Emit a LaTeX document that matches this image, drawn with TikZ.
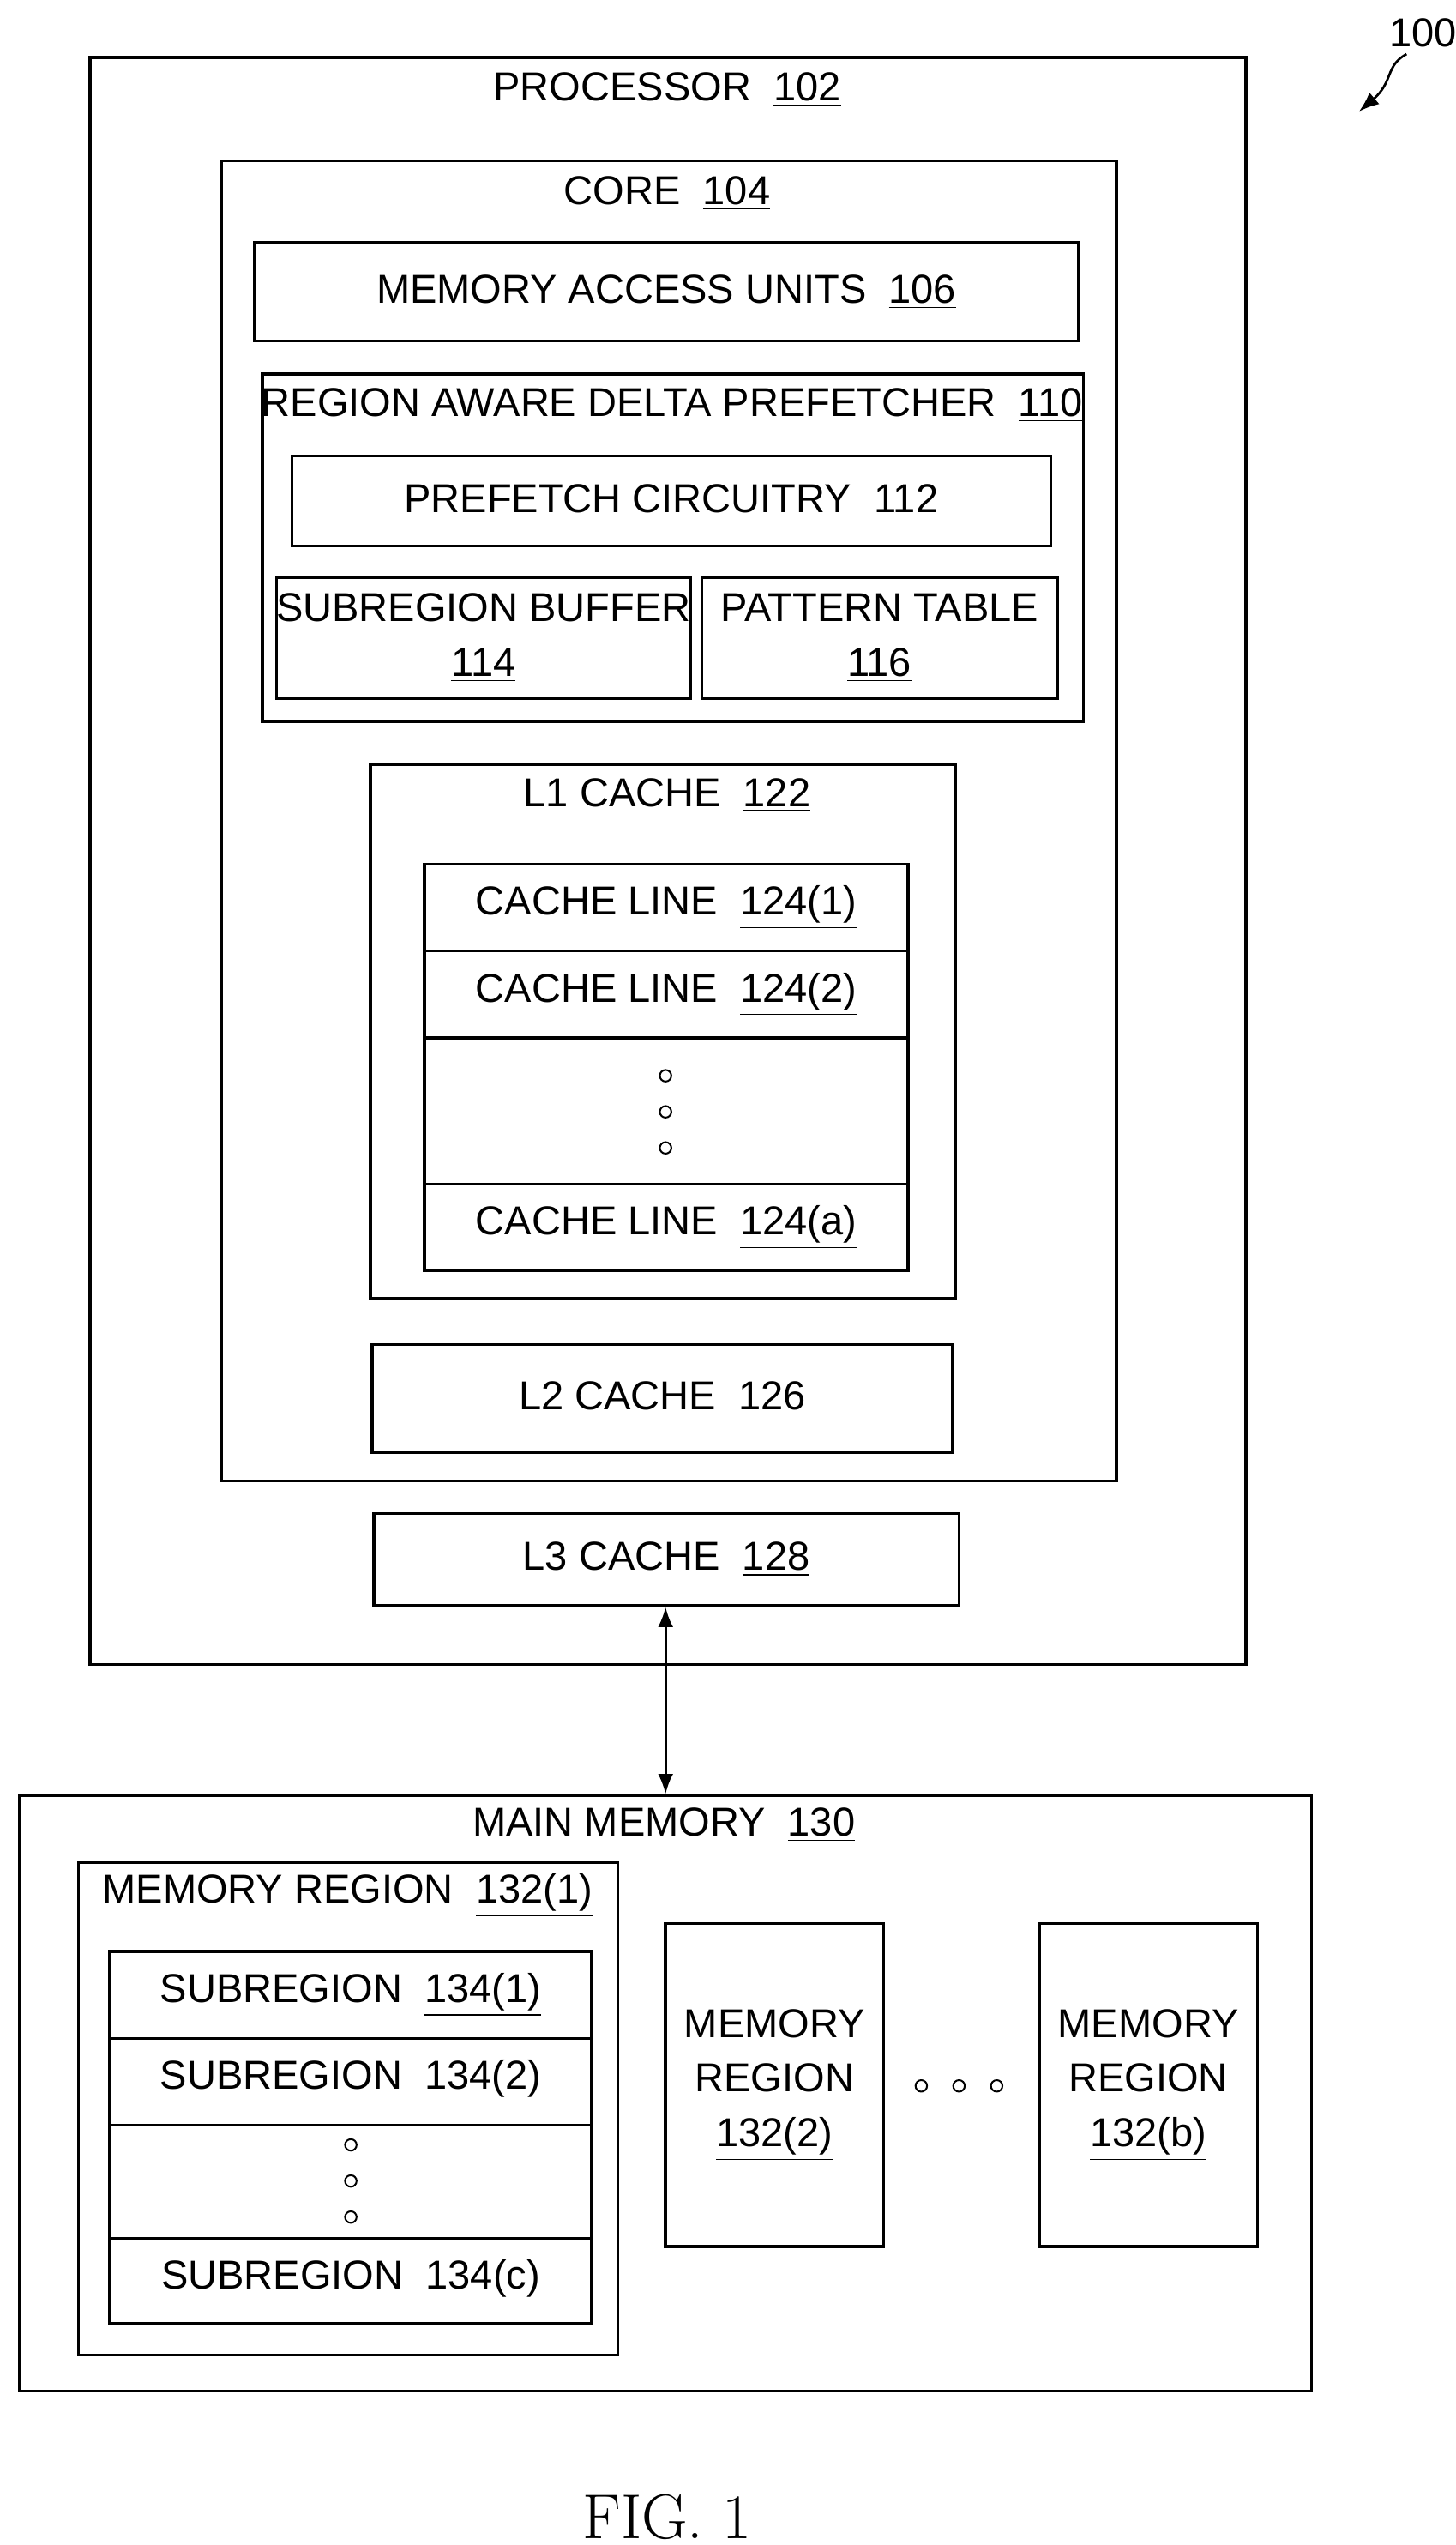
\documentclass[tikz,border=0pt]{standalone}
\usepackage{fontspec}
\setsansfont{Liberation Sans}
\usetikzlibrary{calc,arrows.meta}

% box from two corners (reference pixel units)
\newcommand{\blk}[6]{%
  \node[blk, minimum width={(#4-#2)*0.02cm}, minimum height={(#5-#3)*0.02cm}]
    (#1) at ({(#2+#4)/2},{-(#3+#5)/2}) {#6};}
\newcommand{\num}[1]{\underline{#1}}

\tikzset{
  blk/.style={draw, line width=1pt, inner sep=0pt, align=center,
    font=\sffamily\fontsize{14}{19}\selectfont},
  ttl/.style={font=\sffamily\fontsize{14}{19}\selectfont, inner sep=0pt},
  dot/.style={draw, circle, line width=0.6pt, inner sep=0pt, minimum size=4pt}
}

\begin{document}
\begin{tikzpicture}[x=0.02cm, y=0.02cm]
    \useasboundingbox (0,0) rectangle (888,-1552);

    % processor and core
    \blk{proc}{55}{35}{760}{1015}{}
    \node[ttl] (proctxt) at (407,-55) {PROCESSOR\ \ \num{102}};
    \blk{core}{135}{98}{681}{903}{}
    \node[ttl] (coretxt) at (407,-118) {CORE\ \ \num{104}};
    \blk{mau}{155}{148}{658}{208}{MEMORY ACCESS UNITS\ \ \num{106}}

    % prefetcher
    \blk{radp}{160}{228}{661}{440}{}
    \node[ttl] (radptxt) at (410,-247) {REGION AWARE DELTA PREFETCHER\ \ \num{110}};
    \blk{pfc}{178}{278}{641}{333}{PREFETCH CIRCUITRY\ \ \num{112}}
    \blk{sbuf}{178}{352}{412}{426}{SUBREGION BUFFER\\\num{114}}
    \blk{ptab}{428}{352}{645}{426}{PATTERN TABLE\\\num{116}}

    % L1 cache
    \blk{lone}{226}{466}{583}{792}{}
    \node[ttl] (lonetxt) at (407,-485) {L1 CACHE\ \ \num{122}};
    \blk{cla}{259}{527}{554}{580}{CACHE LINE\ \ \num{124(1)}}
    \blk{clb}{259}{580}{554}{633}{CACHE LINE\ \ \num{124(2)}}
    \blk{clgap}{259}{633}{554}{722}{}
    \blk{clc}{259}{722}{554}{775}{CACHE LINE\ \ \num{124(a)}}
    \foreach \y in {656,678,700} \node[dot] at (406,-\y) {};

    \blk{ltwo}{227}{820}{581}{886}{L2 CACHE\ \ \num{126}}
    \blk{lthree}{228}{923}{585}{979}{L3 CACHE\ \ \num{128}}

    % main memory
    \blk{mem}{12}{1095}{800}{1458}{}
    \node[ttl] (memtxt) at (405,-1113) {MAIN MEMORY\ \ \num{130}};
    \draw[line width=0.8pt, {Latex[length=7pt]}-{Latex[length=7pt]}] (lthree.south-|406,0) -- (mem.north-|406,0);

    \blk{mra}{48}{1136}{377}{1436}{}
    \node[ttl] (mratxt) at (212,-1156) {MEMORY REGION\ \ \num{132(1)}};
    \blk{sra}{67}{1190}{361}{1243}{SUBREGION\ \ \num{134(1)}}
    \blk{srb}{67}{1243}{361}{1296}{SUBREGION\ \ \num{134(2)}}
    \blk{srgap}{67}{1296}{361}{1365}{}
    \blk{src}{67}{1365}{361}{1417}{SUBREGION\ \ \num{134(c)}}
    \foreach \y in {1308,1330,1352} \node[dot] at (214,-\y) {};

    \blk{mrb}{406}{1173}{539}{1370}{MEMORY\\REGION\\\num{132(2)}}
    \blk{mrc}{634}{1173}{767}{1370}{MEMORY\\REGION\\\num{132(b)}}
    \foreach \x in {562,585,608} \node[dot] at (\x,-1272) {};

    % figure label and reference numeral
    \node[font=\rmfamily\fontsize{22}{26}\selectfont] (fig) at (407,-1535) {FIG. 1};
    \node[font=\sffamily\fontsize{14}{17}\selectfont] (ref) at (868,-20) {100};
    \draw[line width=0.8pt, -{Latex[length=7pt]}] (858,-33) .. controls (845,-40) and (850,-50) .. (829,-68);
\end{tikzpicture}
\end{document}
